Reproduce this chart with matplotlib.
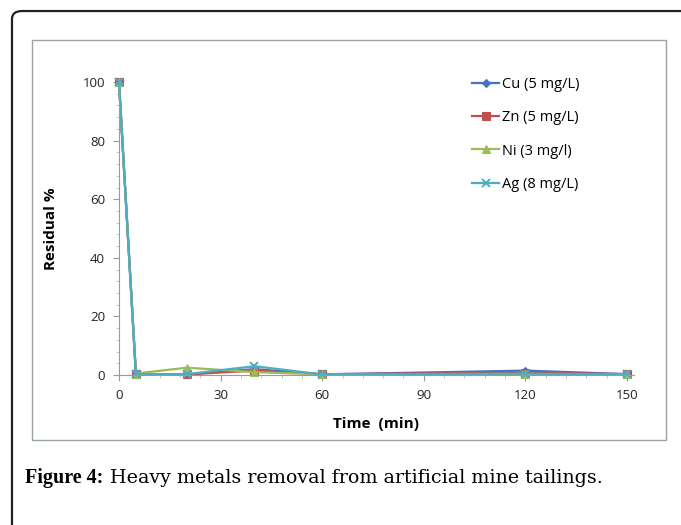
import matplotlib
matplotlib.use('Agg')
import matplotlib.pyplot as plt
from matplotlib.patches import FancyBboxPatch, Rectangle
from matplotlib.ticker import MultipleLocator

# data
time_min = [0, 5, 20, 40, 60, 120, 150]
cu = [100, 0.3, 0.2, 2.0, 0.2, 1.5, 0.3]
zn = [100, 0.3, 0.2, 1.5, 0.3, 0.8, 0.3]
ni = [100, 0.5, 2.5, 1.0, 0.2, 0.3, 0.2]
ag = [100, 0.3, 0.3, 3.0, 0.2, 0.5, 0.2]
labels = ['Cu (5 mg/L)', 'Zn (5 mg/L)', 'Ni (3 mg/l)', 'Ag (8 mg/L)']
colors = ['#4472C4', '#C0504D', '#9BBB59', '#4BACC6']
markers = ['D', 's', '^', 'x']

plt.rcParams['font.family'] = ['Open Sans', 'DejaVu Sans']

fig = plt.figure(figsize=(6.81, 5.25), dpi=100)

# outer rounded frame, running off the right and bottom edges
frame = FancyBboxPatch((0.0176, -0.1), 1.2, 1.079, boxstyle='round,pad=0,rounding_size=0.015',
                       transform=fig.transFigure, fill=False, edgecolor='#222222', lw=1.6)
fig.patches.append(frame)
# chart area border
box = Rectangle((0.047, 0.162), 0.931, 0.762, transform=fig.transFigure,
                fill=False, edgecolor='#9aa59a', lw=1.0)
fig.patches.append(box)

ax = fig.add_axes([0.1747, 0.2857, 0.756, 0.558])
for vals, lab, col, mk in zip([cu, zn, ni, ag], labels, colors, markers):
    ms = 4.5 if mk == 'D' else 5.5
    ax.plot(time_min, vals, color=col, marker=mk, markersize=ms, lw=1.6, label=lab,
            clip_on=False, markeredgewidth=1.4 if mk == 'x' else 0.8)

ax.set_xlim(0, 152)
ax.set_ylim(0, 100)
ax.xaxis.set_major_locator(MultipleLocator(30))
ax.xaxis.set_minor_locator(MultipleLocator(6))
ax.yaxis.set_major_locator(MultipleLocator(20))
ax.yaxis.set_minor_locator(MultipleLocator(4))
for s in ['top', 'right']:
    ax.spines[s].set_visible(False)
for s in ['left', 'bottom']:
    ax.spines[s].set_color('#9a9a9a')
ax.tick_params(which='major', length=4, color='#9a9a9a', labelsize=9.5, labelcolor='#222222', pad=6)
ax.tick_params(which='minor', length=2, color='#c0c0c0')

ax.set_xlabel('Time  (min)', fontsize=11, fontweight='bold', labelpad=11)
ax.set_ylabel('Residual %', fontsize=11, fontweight='bold', labelpad=18)

ax.legend(loc='upper left', bbox_to_anchor=(0.671, 1.042), frameon=False, fontsize=10.5,
          borderpad=0, handlelength=1.9, handletextpad=0.15, labelspacing=1.25)

# caption: bold label followed by plain text
fig.canvas.draw()
t1 = fig.text(0.037, 0.089, 'Figure 4:', fontsize=14.5, fontweight='bold',
              family='Liberation Serif', va='center')
bb = t1.get_window_extent(renderer=fig.canvas.get_renderer())
x2 = (bb.x1 + 7) / fig.bbox.width
fig.text(x2, 0.089, 'Heavy metals removal from artificial mine tailings.', fontsize=13.7,
         family='DejaVu Serif', va='center')

fig.savefig('out.png', dpi=100)
